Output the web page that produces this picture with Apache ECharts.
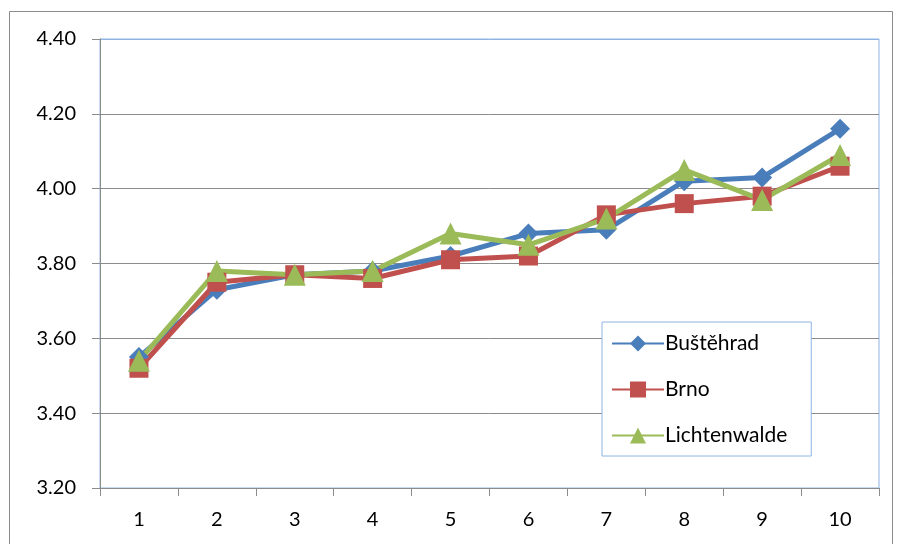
<!DOCTYPE html>
<html>
<head>
<meta charset="utf-8">
<script src="https://cdn.jsdelivr.net/npm/echarts@6/dist/echarts.min.js"></script>
<style>
  html, body { margin: 0; padding: 0; background: #fff; }
  #chart { width: 898px; height: 544px; }
</style>
</head>
<body>
<div id="chart"></div>
<script>
// Category labels along the x axis
const categories = ['1', '2', '3', '4', '5', '6', '7', '8', '9', '10'];

// Series values
const bustehrad = [3.55, 3.73, 3.77, 3.78, 3.82, 3.88, 3.89, 4.02, 4.03, 4.16];
const brno = [3.52, 3.75, 3.77, 3.76, 3.81, 3.82, 3.93, 3.96, 3.98, 4.06];
const lichtenwalde = [3.54, 3.78, 3.77, 3.78, 3.88, 3.85, 3.92, 4.05, 3.97, 4.09];

// Value axis range
const yMin = 3.2;
const yMax = 4.4;
const yStep = 0.2;

const FONT = 'Lato, "Open Sans", sans-serif';
const GRID_GRAY = '#8c8c8c';
const FRAME_BLUE = '#8eb4e3';

const chart = echarts.init(document.getElementById('chart'), null, { renderer: 'canvas' });

function lineSeries(name, data, color, symbol, size) {
  return {
    name: name,
    type: 'line',
    data: data,
    symbol: symbol,
    symbolSize: size,
    showSymbol: true,
    lineStyle: { color: color, width: 5 },
    itemStyle: { color: color },
    emphasis: { disabled: true },
    animation: false
  };
}

chart.setOption({
  backgroundColor: '#ffffff',
  animation: false,
  graphic: [{
    type: 'rect',
    shape: { x: 9.5, y: 11.5, width: 883, height: 540 },
    style: { fill: 'none', stroke: '#8c8c8c', lineWidth: 1 },
    silent: true,
    z: -10
  }],
  grid: {
    left: 100, top: 39, right: 19, bottom: 56,
    show: true,
    borderColor: FRAME_BLUE,
    borderWidth: 1,
    backgroundColor: 'transparent'
  },
  legend: {
    orient: 'vertical',
    left: 602,
    top: 322,
    padding: [11, 24, 10, 9],
    itemGap: 25,
    itemWidth: 52,
    itemHeight: 20,
    backgroundColor: '#ffffff',
    borderColor: FRAME_BLUE,
    borderWidth: 1,
    borderRadius: 0,
    textStyle: { fontFamily: FONT, fontSize: 21, color: '#000', padding: [0, 0, 0, -4] },
    data: ['Buštěhrad', 'Brno', 'Lichtenwalde']
  },
  xAxis: {
    type: 'category',
    data: categories,
    boundaryGap: true,
    axisLine: { show: true, lineStyle: { color: GRID_GRAY, width: 1 } },
    axisTick: { show: true, alignWithLabel: false, length: 8, inside: false, lineStyle: { color: GRID_GRAY } },
    axisLabel: { fontFamily: FONT, fontSize: 20, color: '#000', margin: 22 },
    splitLine: { show: false }
  },
  yAxis: {
    type: 'value',
    min: yMin,
    max: yMax,
    interval: yStep,
    axisLine: { show: true, lineStyle: { color: GRID_GRAY, width: 1 } },
    axisTick: { show: true, length: 8, lineStyle: { color: GRID_GRAY } },
    axisLabel: {
      fontFamily: FONT, fontSize: 20, color: '#000', margin: 24,
      formatter: v => v.toFixed(2)
    },
    splitLine: {
      show: true,
      lineStyle: {
        color: [GRID_GRAY, GRID_GRAY, GRID_GRAY, GRID_GRAY, GRID_GRAY, GRID_GRAY, FRAME_BLUE],
        width: 1
      }
    }
  },
  series: [
    lineSeries('Buštěhrad', bustehrad, '#4a7ebb', 'diamond', 20),
    lineSeries('Brno', brno, '#c0504d', 'rect', 19),
    lineSeries('Lichtenwalde', lichtenwalde, '#9bbb59', 'triangle', 22)
  ]
});
</script>
</body>
</html>
